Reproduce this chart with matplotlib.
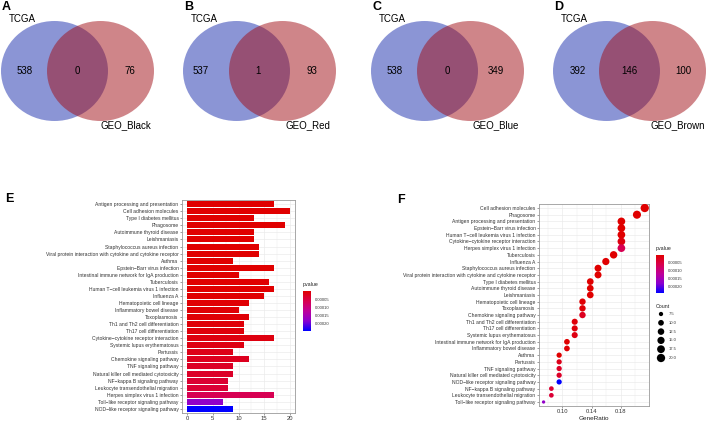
import numpy as np
import matplotlib
matplotlib.use('Agg')
from matplotlib import pyplot as plt
from matplotlib.patches import Ellipse
from matplotlib.colors import LinearSegmentedColormap, Normalize
from matplotlib.cm import ScalarMappable

plt.rcParams['font.family'] = ['Liberation Sans', 'DejaVu Sans']

W, H = 708, 422

# Venn data (panels A-D)
venn_panels = ['A', 'B', 'C', 'D']
venn_sets = ['GEO_Black', 'GEO_Red', 'GEO_Blue', 'GEO_Brown']
tcga_only = [538, 537, 538, 392]
overlap = [0, 1, 0, 146]
geo_only = [76, 93, 349, 100]

# KEGG enrichment, in bar chart order (top to bottom)
terms = ["Antigen processing and presentation", "Cell adhesion molecules",
         "Type I diabetes mellitus", "Phagosome", "Autoimmune thyroid disease",
         "Leishmaniasis", "Staphylococcus aureus infection",
         "Viral protein interaction with cytokine and cytokine receptor",
         "Asthma", "Epstein\u2212Barr virus infection",
         "Intestinal immune network for IgA production", "Tuberculosis",
         "Human T\u2212cell leukemia virus 1 infection", "Influenza A",
         "Hematopoietic cell lineage", "Inflammatory bowel disease",
         "Toxoplasmosis", "Th1 and Th2 cell differentiation",
         "Th17 cell differentiation", "Cytokine\u2212cytokine receptor interaction",
         "Systemic lupus erythematosus", "Pertussis",
         "Chemokine signaling pathway", "TNF signaling pathway",
         "Natural killer cell mediated cytotoxicity",
         "NF\u2212kappa B signaling pathway",
         "Leukocyte transendothelial migration",
         "Herpes simplex virus 1 infection",
         "Toll\u2212like receptor signaling pathway",
         "NOD\u2212like receptor signaling pathway"]
counts = np.array([17, 20, 13, 19, 13, 13, 14, 14, 9, 17, 10, 16, 17, 15, 12,
                   10, 12, 11, 11, 17, 11, 9, 12, 9, 9, 8, 8, 17, 7, 9])
pvalues = np.array([2e-9, 5e-9, 1e-8, 2e-8, 4e-8, 5e-8, 1e-7, 2e-7, 3e-7, 5e-7,
                    8e-7, 1e-6, 1.5e-6, 2e-6, 3e-6, 4e-6, 5e-6, 7e-6, 9e-6, 1.2e-5,
                    1.5e-5, 2e-5, 2.4e-5, 3e-5, 3.2e-5, 4e-5, 4.2e-5,
                    6.5e-5, 1.75e-4, 2.45e-4])
gene_total = 94
pv_ticks = [0.00005, 0.00010, 0.00015, 0.00020]
count_legend = [7.5, 10.0, 12.5, 15.0, 17.5, 20.0]

fig = plt.figure(figsize=(W / 100, H / 100), dpi=100)


def px_axes(l, t, r, b):
    return fig.add_axes([l / W, 1 - b / H, (r - l) / W, (b - t) / H])


# ---- Venn diagrams
panel_x = [1, 183, 371, 553]
left_dx = [24, 18, 24, 25]
mid_dx = [76, 75, 76, 76]
right_dx = [129, 129, 125, 130]
for i in range(4):
    ax = px_axes(panel_x[i], 0, panel_x[i] + 160, 140)
    ax.set_xlim(0, 160)
    ax.set_ylim(140, 0)
    ax.axis('off')
    ax.add_patch(Ellipse((53.5, 71), 107, 100, fc='#192DAD', alpha=0.5, lw=0))
    ax.add_patch(Ellipse((99.5, 71), 107, 100, fc='#A10D15', alpha=0.5, lw=0))
    ax.text(left_dx[i], 71, str(tcga_only[i]), ha='center', va='center', fontsize=7)
    ax.text(mid_dx[i], 71, str(overlap[i]), ha='center', va='center', fontsize=7)
    ax.text(right_dx[i], 71, str(geo_only[i]), ha='center', va='center', fontsize=7)
    ax.text(21, 19, 'TCGA', ha='center', va='center', fontsize=7)
    ax.text(125, 125, venn_sets[i], ha='center', va='center', fontsize=7)
    fig.text((panel_x[i] + 1) / W, 1 - 7 / H, venn_panels[i], fontsize=9,
             fontweight='bold', ha='left', va='center')

# colour scale: red (low p) -> blue (high p)
cmap = LinearSegmentedColormap.from_list(
    'pv', [(0, '#E00000'), (0.25, '#D8004E'), (0.5, '#BE009A'),
           (0.75, '#8A00D0'), (1, '#0000FF')])
norm = Normalize(vmin=pvalues.min(), vmax=pvalues.max())
grid_col = '#EBEBEB'


def style_axes(ax):
    ax.set_facecolor('white')
    for s in ax.spines.values():
        s.set_color('#9A9A9A')
        s.set_linewidth(0.6)
    ax.tick_params(length=1.5, width=0.4, color='#555555', pad=1,
                   labelsize=3.6, labelcolor='#333333')
    ax.set_axisbelow(True)


def add_colorbar(l, t, r, b):
    cax = px_axes(l, t, r, b)
    cb = fig.colorbar(ScalarMappable(norm=norm, cmap=cmap), cax=cax)
    cb.outline.set_visible(False)
    cb.set_ticks(pv_ticks)
    cb.set_ticklabels(['%.5f' % v for v in pv_ticks])
    cax.invert_yaxis()
    cax.tick_params(length=1.5, width=0.4, color='white', pad=1.5,
                    labelsize=3.0, labelcolor='#333333')
    fig.text(l / W, 1 - (t - 4) / H, 'pvalue', fontsize=3.8, va='bottom',
             color='#222222')


# ---- E: bar chart
fig.text(5 / W, 1 - 199 / H, 'E', fontsize=9, fontweight='bold', va='center')
axE = px_axes(182, 200, 295, 413)
style_axes(axE)
n = len(terms)
ypos = np.arange(n)[::-1] + 1
axE.barh(ypos, counts, height=0.85, color=cmap(norm(pvalues)), zorder=2)
axE.set_yticks(ypos)
axE.set_yticklabels(terms)
axE.set_ylim(0.4, n + 0.6)
axE.set_xlim(-1, 21)
axE.set_xticks([0, 5, 10, 15, 20])
axE.set_xticks([2.5, 7.5, 12.5, 17.5], minor=True)
axE.tick_params(axis='x', which='minor', length=0)
axE.tick_params(axis='x', labelsize=4.2)
axE.grid(True, which='major', color=grid_col, lw=0.5)
axE.grid(True, which='minor', axis='x', color=grid_col, lw=0.3)
add_colorbar(303, 291, 311, 331)

# ---- F: dot plot
fig.text(397 / W, 1 - 200 / H, 'F', fontsize=9, fontweight='bold', va='center')
axF = px_axes(539, 204, 649, 406)
style_axes(axF)
order = np.argsort(-counts, kind='stable')
ratio = counts[order] / gene_total
yF = np.arange(n)[::-1] + 1
cmin, cmax = counts.min(), counts.max()


def dot_area(c):
    d = 3.3 + 5.0 * np.sqrt((np.asarray(c) - cmin) / (cmax - cmin))
    return (d * 0.72) ** 2


axF.scatter(ratio, yF, s=dot_area(counts[order]), c=cmap(norm(pvalues[order])),
            lw=0, zorder=3)
axF.set_yticks(yF)
axF.set_yticklabels([terms[k] for k in order])
axF.set_ylim(0.4, n + 0.6)
axF.set_xlim(0.0682, 0.2186)
axF.set_xticks([0.10, 0.14, 0.18])
axF.set_xticklabels(['0.10', '0.14', '0.18'])
axF.set_xticks([0.08, 0.12, 0.16, 0.20], minor=True)
axF.tick_params(axis='x', which='minor', length=0)
axF.tick_params(axis='x', labelsize=4.2)
axF.grid(True, which='major', color=grid_col, lw=0.5)
axF.grid(True, which='minor', axis='x', color=grid_col, lw=0.3)
axF.set_xlabel('GeneRatio', fontsize=4.6, labelpad=1, color='#222222')
add_colorbar(656, 255, 664, 293)

# size legend
axL = px_axes(652, 309, 700, 364)
axL.set_xlim(0, 48)
axL.set_ylim(55, 0)
axL.axis('off')
ly = np.linspace(5, 49, len(count_legend))
axL.scatter(np.full(len(count_legend), 9), ly, s=dot_area(count_legend), c='black', lw=0)
for yy, v in zip(ly, count_legend):
    axL.text(17, yy, '%.1f' % v, fontsize=3.0, va='center', color='#333333')
fig.text(656 / W, 1 - 306 / H, 'Count', fontsize=3.8, va='center', color='#222222')

fig.savefig('out.png', dpi=100)
